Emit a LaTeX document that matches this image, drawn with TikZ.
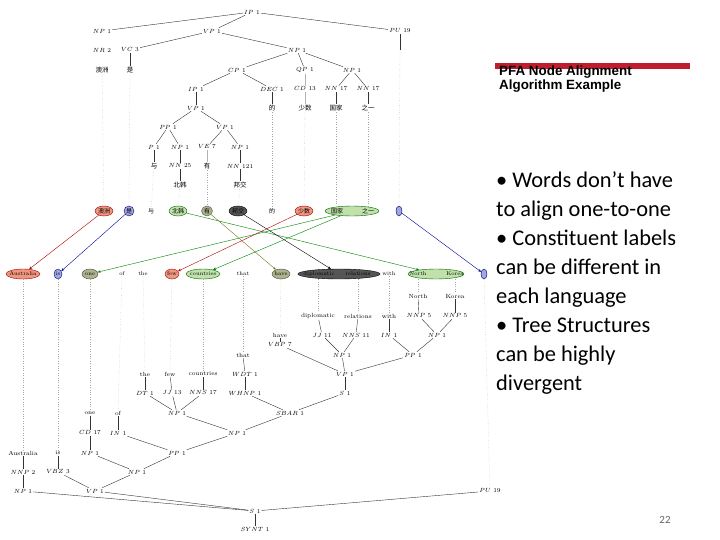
\documentclass[tikz,border=0pt]{standalone}
\usepackage{fontspec}
\newfontfamily\cjk{Noto Sans CJK SC}
\newfontfamily\carl{Carlito}
\newfontfamily\arl{Liberation Sans}
\usetikzlibrary{shapes.geometric,arrows.meta}
\definecolor{sred}{RGB}{240,150,128}
\definecolor{sblue}{RGB}{160,168,222}
\definecolor{sgreen}{RGB}{192,226,170}
\definecolor{solive}{RGB}{172,178,140}
\definecolor{sdark}{RGB}{85,85,85}
\definecolor{barred}{RGB}{190,30,45}
\begin{document}
\begin{tikzpicture}[x=1pt,y=-1pt,
 lab/.style={inner sep=1pt,font=\fontsize{6}{7}\selectfont},
 zh/.style={inner sep=1pt,font=\cjk\fontsize{6.5}{7}\selectfont},
 ell/.style={ellipse,draw,inner sep=0pt,minimum height=10pt,minimum width=#1},
 ell/.default=14pt,
 et/.style={inner sep=0pt,font=\fontsize{5.5}{7}\selectfont},
 ezh/.style={inner sep=0pt,font=\cjk\fontsize{6}{7}\selectfont},
 tl/.style={draw=black!80,line width=0.4pt},
 dl/.style={draw=black!35,dotted,line width=0.4pt},
 ar/.style={-{Stealth[length=3pt,width=2.5pt]},line width=0.4pt}]
\useasboundingbox (0,0) rectangle (720,540);
% ---------- top tree ----------
\node[lab] (ip) at (252,12) {$IP$ 1};
\node[lab] (np1) at (102,31) {$NP$ 1};
\node[lab] (vp1) at (212,31) {$VP$ 1};
\node[lab] (pu) at (400,31) {$PU$ 19};
\node[lab] (nr) at (102,50) {$NR$ 2};
\node[lab] (vc) at (130,50) {$VC$ 3};
\node[lab] (np2) at (297,50) {$NP$ 1};
\node[zh] (aoz) at (102,70) {澳洲};
\node[zh] (shi) at (130,70) {是};
\node[lab] (cp) at (237,70) {$CP$ 1};
\node[lab] (qp) at (305,70) {$QP$ 1};
\node[lab] (np3) at (352,70) {$NP$ 1};
\node[lab] (ip2) at (196,89) {$IP$ 1};
\node[lab] (dec) at (272,89) {$DEC$ 1};
\node[lab] (cd) at (305,89) {$CD$ 13};
\node[lab] (nna) at (336,89) {$NN$ 17};
\node[lab] (nnb) at (368,89) {$NN$ 17};
\node[zh] (de) at (272,108) {的};
\node[zh] (shs) at (305,108) {少数};
\node[zh] (gj) at (336,108) {国家};
\node[zh] (zy) at (368,108) {之一};
\node[lab] (vp2) at (196,108) {$VP$ 1};
\node[lab] (pp) at (168,127) {$PP$ 1};
\node[lab] (vp3) at (225,127) {$VP$ 1};
\node[lab] (p) at (154,147) {$P$ 1};
\node[lab] (np4) at (180,147) {$NP$ 1};
\node[lab] (ve) at (207,147) {$VE$ 7};
\node[lab] (np5) at (240,147) {$NP$ 1};
\node[zh] (yu) at (154,166) {与};
\node[lab] (nn25) at (180,166) {$NN$ 25};
\node[zh] (you) at (207,166) {有};
\node[lab] (nn121) at (240,166) {$NN$ 121};
\node[zh] (bh) at (180,185) {北韩};
\node[zh] (bj) at (240,185) {邦交};
\coordinate (pub) at (400,50);
\foreach \a/\b in {ip/np1,ip/vp1,ip/pu,vp1/vc,vp1/np2,vc/shi,np2/cp,np2/qp,np2/np3,cp/ip2,cp/dec,np3/nna,np3/nnb,nna/gj,nnb/zy,dec/de,ip2/vp2,vp2/pp,vp2/vp3,pp/p,pp/np4,vp3/ve,vp3/np5,p/yu,np4/nn25,nn25/bh,np5/nn121,nn121/bj,pu/pub}
  \draw[tl] (\a) -- (\b);
\draw[draw=black!30] (qp) -- (cd) -- (shs);
\draw[draw=black!30] (ve) -- (you);
% ---------- Chinese ellipses ----------
\node[ell=18pt,fill=sred,draw=red!60!black] (z1) at (104,211) {};
\node[ell=10pt,fill=sblue,draw=blue!50!black] (z2) at (129,211) {};
\node[ell=18pt,fill=sgreen,draw=green!40!black] (z4) at (178,211) {};
\node[ell=11pt,fill=solive,draw=black!70] (z5) at (207,211) {};
\node[ell=18pt,fill=sdark,draw=black] (z6) at (238,211) {};
\node[ell=18pt,fill=sred,draw=red!60!black] (z8) at (304,211) {};
\node[ell=54pt,fill=sgreen,draw=green!40!black] (z9) at (352,211) {};
\node[ell=6pt,fill=sblue,draw=blue!50!black] (z10) at (399,211) {};
\node[ezh] (t1) at (z1) {澳洲};
\node[ezh] (t2) at (z2) {是};
\node[ezh] (z3) at (151,211) {与};
\node[ezh] (t4) at (z4) {北韩};
\node[ezh] (t5) at (z5) {有};
\node[ezh] (t6) at (z6) {邦交};
\node[ezh] (z7) at (272,211) {的};
\node[ezh] (t8) at (z8) {少数};
\node[ezh] (t9a) at (337,211) {国家};
\node[ezh] (t9b) at (368,211) {之一};
\foreach \a/\b in {aoz/z1,shi/z2,yu/z3,bh/z4,you/z5,bj/z6,de/z7,shs/z8,pub/z10}
  \draw[dl] (\a) -- (\b);
\draw[dl] (gj) -- (gj |- z9.north);
\draw[dl] (zy) -- (zy |- z9.north);
% ---------- English ellipses ----------
\node[ell=34pt,fill=sred,draw=red!60!black] (e1) at (23,274) {};
\node[ell=8pt,fill=sblue,draw=blue!50!black] (e2) at (58,274) {};
\node[ell=16pt,fill=solive,draw=black!70] (e3) at (90,274) {};
\node[ell=14pt,fill=sred,draw=red!60!black] (e6) at (172,274) {};
\node[ell=34pt,fill=sgreen,draw=green!40!black] (e7) at (203,274) {};
\node[ell=18pt,fill=solive,draw=black!70] (e9) at (281,274) {};
\node[ell=82pt,fill=sdark,draw=black] (e10) at (339,274) {};
\node[ell=56pt,fill=sgreen,draw=green!40!black] (e12) at (436,274) {};
\node[ell=6pt,fill=sblue,draw=blue!50!black] (e13) at (484,274) {};
\node[et] (u1) at (e1) {Australia};
\node[et] (u2) at (e2) {is};
\node[et] (u3) at (e3) {one};
\node[et] (e4) at (122,274) {of};
\node[et] (e5) at (143,274) {the};
\node[et] (u6) at (e6) {few};
\node[et] (u7) at (e7) {countries};
\node[et] (e8) at (243,274) {that};
\node[et] (u9) at (e9) {have};
\node[et] (u10a) at (319,274) {diplomatic};
\node[et] (u10b) at (358,274) {relations};
\node[et] (e11) at (389,274) {with};
\node[et] (u12a) at (418,274) {North};
\node[et] (u12b) at (455,274) {Korea};
% alignment arrows
\draw[ar,red!70!black] (z1) -- (e1);
\draw[ar,blue!60!black] (z2) -- (e2);
\draw[ar,green!50!black] (z4) -- (e12);
\draw[ar,olive!80!black] (z5) -- (e9);
\draw[ar,black] (z6) -- (e10);
\draw[ar,red!70!black] (z8) -- (e6);
\draw[ar,green!50!black] (z9) -- (e3);
\draw[ar,green!50!black] (z9) -- (e7);
\draw[ar,blue!60!black] (z10) -- (e13);
% ---------- bottom tree ----------
\node[lab] (north) at (418,296) {North};
\node[lab] (korea) at (455,296) {Korea};
\node[lab] (dipl) at (318,316) {diplomatic};
\node[lab] (rel) at (358,316) {relations};
\node[lab] (with) at (389,316) {with};
\node[lab] (nnp5a) at (419,316) {$NNP$ 5};
\node[lab] (nnp5b) at (455,316) {$NNP$ 5};
\node[lab] (have) at (280,335) {have};
\node[lab] (jj11) at (322,335) {$JJ$ 11};
\node[lab] (nns11) at (356,335) {$NNS$ 11};
\node[lab] (in1) at (389,335) {$IN$ 1};
\node[lab] (npb1) at (437,335) {$NP$ 1};
\node[lab] (vbp) at (280,345) {$VBP$ 7};
\node[lab] (npb2) at (342,355) {$NP$ 1};
\node[lab] (ppb1) at (413,355) {$PP$ 1};
\node[lab] (that) at (243,355) {that};
\node[lab] (vpb1) at (345,374) {$VP$ 1};
\node[lab] (the) at (145,374) {the};
\node[lab] (few) at (170,374) {few};
\node[lab] (countries) at (203,374) {countries};
\node[lab] (wdt) at (245,374) {$WDT$ 1};
\node[lab] (dt) at (145,393) {$DT$ 1};
\node[lab] (jj13) at (172,393) {$JJ$ 13};
\node[lab] (nns17) at (203,393) {$NNS$ 17};
\node[lab] (whnp) at (245,393) {$WHNP$ 1};
\node[lab] (s1) at (345,393) {$S$ 1};
\node[lab] (one) at (90,413) {one};
\node[lab] (of) at (118,413) {of};
\node[lab] (npb3) at (177,413) {$NP$ 1};
\node[lab] (sbar) at (290,413) {$SBAR$ 1};
\node[lab] (cd17) at (90,433) {$CD$ 17};
\node[lab] (inb1) at (118,433) {$IN$ 1};
\node[lab] (npb4) at (237,433) {$NP$ 1};
\node[lab] (austr) at (23,453) {Australia};
\node[lab] (is) at (58,453) {is};
\node[lab] (npb5) at (90,453) {$NP$ 1};
\node[lab] (ppb2) at (177,453) {$PP$ 1};
\node[lab] (nnp2) at (23,472) {$NNP$ 2};
\node[lab] (vbz) at (58,472) {$VBZ$ 3};
\node[lab] (npb6) at (137,472) {$NP$ 1};
\node[lab] (npb7) at (23,491) {$NP$ 1};
\node[lab] (vpb2) at (95,491) {$VP$ 1};
\node[lab] (pub2) at (490,491) {$PU$ 19};
\node[lab] (sb) at (255,511) {$S$ 1};
\node[lab] (synt) at (255,529) {$SYNT$ 1};
\foreach \a/\b in {north/nnp5a,korea/nnp5b,dipl/jj11,rel/nns11,with/in1,have/vbp,nnp5a/npb1,nnp5b/npb1,jj11/npb2,nns11/npb2,in1/ppb1,npb1/ppb1,vbp/vpb1,npb2/vpb1,ppb1/vpb1,that/wdt,wdt/whnp,vpb1/s1,the/dt,few/jj13,countries/nns17,dt/npb3,jj13/npb3,nns17/npb3,whnp/sbar,s1/sbar,npb3/npb4,sbar/npb4,one/cd17,of/inb1,cd17/npb5,inb1/ppb2,npb4/ppb2,npb5/npb6,ppb2/npb6,austr/nnp2,is/vbz,nnp2/npb7,vbz/vpb2,npb6/vpb2,npb7/sb,vpb2/sb,pub2/sb,sb/synt}
  \draw[tl] (\a) -- (\b);
\foreach \a/\b in {e1/austr,e2/is,e3/one,e4/of,e5/the,e6/few,e7/countries,e8/that,e9/have,e11/with,e13/pub2}
  \draw[dl] (\a) -- (\b);
\draw[dl] (e10.south -| dipl) -- (dipl);
\draw[dl] (e10.south -| rel) -- (rel);
\draw[dl] (e12.south -| north) -- (north);
\draw[dl] (e12.south -| korea) -- (korea);
% ---------- right panel ----------
\fill[barred] (495,63) rectangle (690,69) coordinate (barend);
\node[anchor=north west,inner sep=0,align=left,font=\arl\bfseries\fontsize{13.4}{14}\selectfont] (title) at (499,65.5) {PFA Node Alignment\\Algorithm Example};
\node[anchor=north west,inner sep=0,align=left,font=\carl\fontsize{22.4}{28.9}\selectfont] (body) at (496,172) {• Words don’t have\\to align one-to-one\\• Constituent labels\\can be different in\\each language\\• Tree Structures\\can be highly\\divergent};
\node[font=\carl\fontsize{11}{13}\selectfont,text=black!60] (pg) at (665,520) {22};
\end{tikzpicture}
\end{document}
